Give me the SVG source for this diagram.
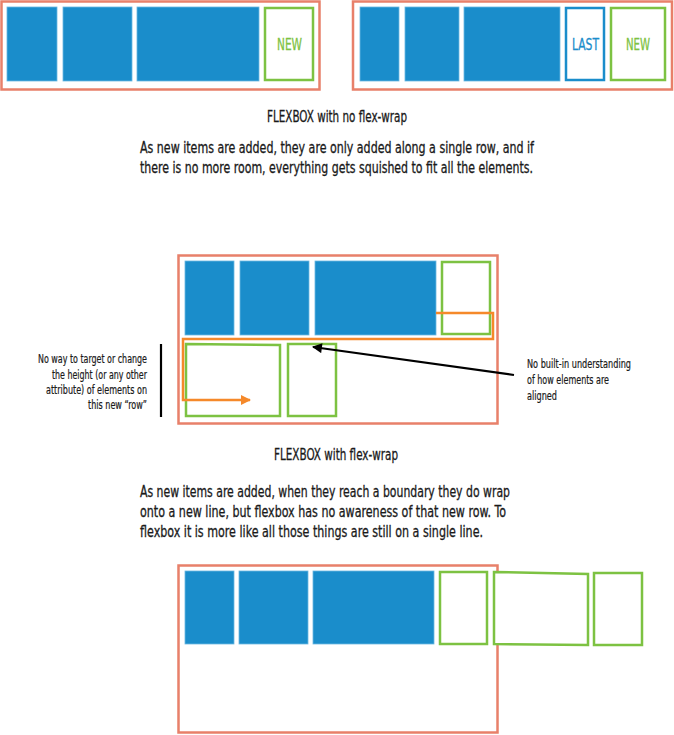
<svg xmlns="http://www.w3.org/2000/svg" width="674" height="735" viewBox="0 0 674 735">
<defs>
<style>
.frame{fill:#fff;stroke:#e8806a;stroke-width:2.5}
.blue{fill:#1a8dcb;stroke:#6cb8e0;stroke-width:0.8}
.green{fill:#fff;stroke:#7dc242;stroke-width:2.5}
.last{fill:#fff;stroke:#1a8dcb;stroke-width:2.5}
.t{font-family:"Liberation Sans Narrow","DejaVu Sans Condensed","Liberation Sans",sans-serif;fill:#1a1a1a;stroke:#1a1a1a;stroke-width:0.3}
.cap{font-size:15.5px}
.para{font-size:15.5px}
.note{font-size:11.5px;stroke-width:0.2}
.lbl{font-size:16px}
.lg{fill:#7dc242;stroke:#7dc242}
.lb{fill:#1a8dcb;stroke:#1a8dcb}
</style>
<marker id="ah-black" viewBox="0 0 10 10" refX="9" refY="5" markerWidth="5" markerHeight="4.5" orient="auto" markerUnits="strokeWidth">
<path d="M0,0 L10,5 L0,10 z" fill="#000"/>
</marker>
<marker id="ah-orange" viewBox="0 0 10 10" refX="9" refY="5" markerWidth="4" markerHeight="4" orient="auto" markerUnits="strokeWidth">
<path d="M0,0 L10,5 L0,10 z" fill="#f5892a"/>
</marker>
</defs>
<rect width="674" height="735" fill="#fff"/>

<g id="panel-nowrap-1">
<rect class="frame" x="1.5" y="1.5" width="318" height="88"/>
<rect class="blue" x="7" y="7" width="50" height="74"/>
<rect class="blue" x="63" y="7" width="69" height="74"/>
<rect class="blue" x="137" y="7" width="122" height="74"/>
<rect class="green" x="265" y="8" width="48" height="72"/>
<text class="t lbl lg" x="289.5" y="50" text-anchor="middle" textLength="25" lengthAdjust="spacingAndGlyphs">NEW</text>
</g>

<g id="panel-nowrap-2">
<rect class="frame" x="353" y="1.5" width="319" height="88"/>
<rect class="blue" x="360" y="7" width="39" height="74"/>
<rect class="blue" x="405" y="7" width="54" height="74"/>
<rect class="blue" x="464" y="7" width="96" height="74"/>
<rect class="last" x="566" y="8" width="38" height="72"/>
<text class="t lbl lb" x="585.5" y="50" text-anchor="middle" textLength="27" lengthAdjust="spacingAndGlyphs">LAST</text>
<rect class="green" x="611" y="8" width="54" height="72"/>
<text class="t lbl lg" x="638" y="50" text-anchor="middle" textLength="24" lengthAdjust="spacingAndGlyphs">NEW</text>
</g>

<g id="caption-nowrap">
<text class="t cap" x="337" y="122" text-anchor="middle" textLength="140" lengthAdjust="spacingAndGlyphs">FLEXBOX with no flex-wrap</text>
<text class="t para" x="140" y="153" textLength="394" lengthAdjust="spacingAndGlyphs">As new items are added, they are only added along a single row, and if</text>
<text class="t para" x="140" y="173" textLength="393" lengthAdjust="spacingAndGlyphs">there is no more room, everything gets squished to fit all the elements.</text>
</g>

<g id="panel-wrap">
<rect class="frame" x="178.5" y="255.5" width="319" height="168"/>
<rect class="blue" x="185" y="261" width="49" height="74"/>
<rect class="blue" x="240" y="261" width="69" height="74"/>
<rect class="blue" x="315" y="261" width="121" height="74"/>
<rect class="green" x="442" y="262" width="48" height="72"/>
<polygon class="green" points="186,344 280,345 280,416 186,416"/>
<rect class="green" x="288" y="344" width="48" height="72"/>
</g>

<g id="connectors">
<polyline points="436,313 493,313 493,339 183,339 183,400 250,400" fill="none" stroke="#f5892a" stroke-width="2.5" marker-end="url(#ah-orange)"/>
<line x1="514" y1="375" x2="313" y2="347" stroke="#000" stroke-width="2.2" marker-end="url(#ah-black)"/>
<line x1="161" y1="344" x2="161" y2="417" stroke="#000" stroke-width="2.2"/>
</g>

<g id="note-left">
<text class="t note" x="147" y="363" text-anchor="end" textLength="109" lengthAdjust="spacingAndGlyphs">No way to target or change</text>
<text class="t note" x="147" y="379" text-anchor="end" textLength="95" lengthAdjust="spacingAndGlyphs">the height (or any other</text>
<text class="t note" x="147" y="394" text-anchor="end" textLength="101" lengthAdjust="spacingAndGlyphs">attribute) of elements on</text>
<text class="t note" x="147" y="409" text-anchor="end" textLength="59" lengthAdjust="spacingAndGlyphs">this new “row”</text>
</g>

<g id="note-right">
<text class="t note" x="527" y="368" textLength="104" lengthAdjust="spacingAndGlyphs">No built-in understanding</text>
<text class="t note" x="527" y="384" textLength="82" lengthAdjust="spacingAndGlyphs">of how elements are</text>
<text class="t note" x="527" y="400" textLength="30" lengthAdjust="spacingAndGlyphs">aligned</text>
</g>

<g id="caption-wrap">
<text class="t cap" x="336" y="460" text-anchor="middle" textLength="124" lengthAdjust="spacingAndGlyphs">FLEXBOX with flex-wrap</text>
<text class="t para" x="140" y="497" textLength="370" lengthAdjust="spacingAndGlyphs">As new items are added, when they reach a boundary they do wrap</text>
<text class="t para" x="140" y="517" textLength="366" lengthAdjust="spacingAndGlyphs">onto a new line, but flexbox has no awareness of that new row. To</text>
<text class="t para" x="140" y="537" textLength="343" lengthAdjust="spacingAndGlyphs">flexbox it is more like all those things are still on a single line.</text>
</g>

<g id="panel-single-line">
<rect class="frame" x="178.5" y="565.5" width="319" height="167"/>
<rect class="blue" x="185" y="571" width="49" height="73"/>
<rect class="blue" x="239" y="571" width="69" height="73"/>
<rect class="blue" x="313" y="571" width="121" height="73"/>
<rect class="green" x="440" y="572" width="47" height="72"/>
<polygon class="green" points="494,572 588,574 588,645 494,644"/>
<rect class="green" x="594" y="573" width="48" height="72"/>
</g>
</svg>
